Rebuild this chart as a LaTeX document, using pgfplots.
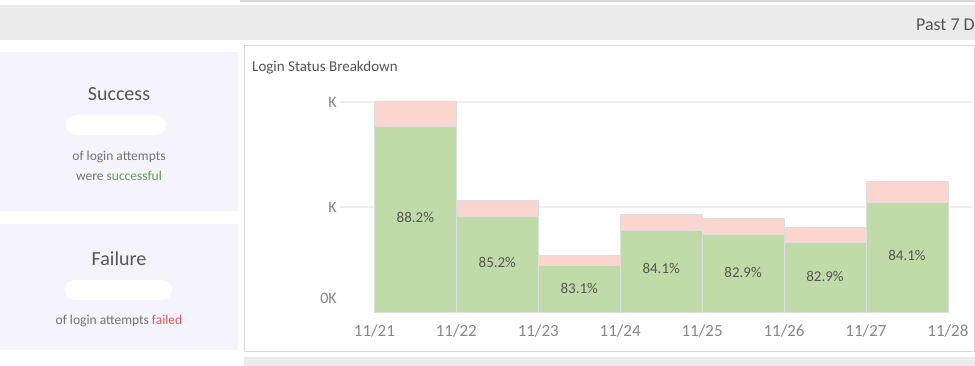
\documentclass[border=0pt]{standalone}
\usepackage{fontspec}
\setmainfont{Carlito}
\usepackage{pgfplots}
\pgfplotsset{compat=1.18}
\definecolor{barG}{RGB}{193,219,168}
\definecolor{barR}{RGB}{252,213,206}
\definecolor{edgeC}{RGB}{222,222,222}
\definecolor{panelL}{RGB}{245,243,252}
\definecolor{bandC}{RGB}{235,235,235}
\definecolor{gridC}{RGB}{238,238,238}
\definecolor{borderC}{RGB}{218,218,218}
\definecolor{txtD}{RGB}{85,85,85}
\definecolor{txtM}{RGB}{115,115,115}
\definecolor{txtL}{RGB}{135,135,135}
\definecolor{succG}{RGB}{89,161,79}
\definecolor{failR}{RGB}{225,87,89}
\begin{document}
\begin{tikzpicture}
\useasboundingbox (0,0) rectangle (975pt,366pt);
\fill[white] (0,0) rectangle (975pt,366pt);
% top thin line and band
\fill[borderC] (240pt,364pt) rectangle (975pt,366pt);
\fill[bandC] (0,326pt) rectangle (975pt,361pt);
\node[anchor=east, inner sep=0pt, text=txtD, font=\fontsize{18}{21}\selectfont] at (975pt,341pt) {Past 7 D};
% left panels
\fill[panelL] (0,155pt) rectangle (238pt,314pt);
\fill[panelL] (0,16pt) rectangle (238pt,142pt);
\node[text=txtD, font=\fontsize{20}{23}\selectfont] at (119pt,272pt) {Success};
\fill[white, rounded corners=10pt] (66pt,231pt) rectangle (166pt,251pt);
\node[text=txtM, font=\fontsize{13.5}{16}\selectfont] at (119pt,209pt) {of login attempts};
\node[text=txtM, font=\fontsize{13.5}{16}\selectfont] at (119pt,190pt) {were \textcolor{succG}{successful}};
\node[text=txtD, font=\fontsize{20}{23}\selectfont] at (119pt,107pt) {Failure};
\fill[white, rounded corners=10pt] (65pt,66pt) rectangle (172pt,86pt);
\node[text=txtM, font=\fontsize{13.5}{16}\selectfont] at (119pt,45pt) {of login attempts \textcolor{failR}{failed}};
% chart panel
\draw[borderC, line width=1pt, fill=white] (244pt,14pt) rectangle (974.5pt,320pt);
\fill[bandC] (244pt,0) rectangle (975pt,9pt);
\node[anchor=west, inner sep=0pt, text=txtD, font=\fontsize{15}{18}\selectfont] at (252pt,298pt) {Login Status Breakdown};
\begin{axis}[
  at={(340pt,54pt)}, anchor=south west,
  scale only axis, width=632.5pt, height=222pt,
  xmin=-0.42, xmax=7.30, ymin=0, ymax=21.14,
  ybar stacked, bar width=1,
  axis line style={draw=none},
  major tick length=0pt,
  xtick={0,1,2,3,4,5,6,7},
  xticklabels={11/21,11/22,11/23,11/24,11/25,11/26,11/27,11/28},
  xticklabel style={text=txtL, font=\fontsize{17}{20}\selectfont, yshift=-9pt},
  ytick={10,20},
  yticklabels={K,K},
  extra y ticks={1.3},
  extra y tick labels={0K},
  extra y tick style={grid=none},
  yticklabel style={text=txtL, font=\fontsize{16}{19}\selectfont, inner xsep=3pt},
  ymajorgrids,
  grid style={gridC, line width=1.3pt},
  /pgf/number format/assume math mode=true,
  clip=false,
]
\addplot[fill=barG, draw=edgeC, line width=0.8pt] coordinates {
  (0.5,17.7) (1.5,9.08) (2.5,4.47) (3.5,7.78) (4.5,7.35) (5.5,6.65) (6.5,10.47)};
\addplot[fill=barR, draw=edgeC, line width=0.8pt] coordinates {
  (0.5,2.4) (1.5,1.58) (2.5,0.91) (3.5,1.47) (4.5,1.52) (5.5,1.37) (6.5,1.98)};
\end{axis}
\begin{axis}[
  at={(340pt,54pt)}, anchor=south west,
  scale only axis, width=632.5pt, height=222pt,
  xmin=-0.42, xmax=7.30, ymin=0, ymax=21.14,
  hide axis, clip=false,
]
\addplot[draw=none, mark=none, nodes near coords, point meta=explicit symbolic,
  nodes near coords style={anchor=center, text=txtD, font=\fontsize{15}{18}\selectfont}]
  coordinates {
  (0.5,9.05)[88.2\%] (1.5,4.76)[85.2\%] (2.5,2.29)[83.1\%] (3.5,4.1)[84.1\%]
  (4.5,3.81)[82.9\%] (5.5,3.43)[82.9\%] (6.5,5.43)[84.1\%]};
\end{axis}
\end{tikzpicture}
\end{document}
